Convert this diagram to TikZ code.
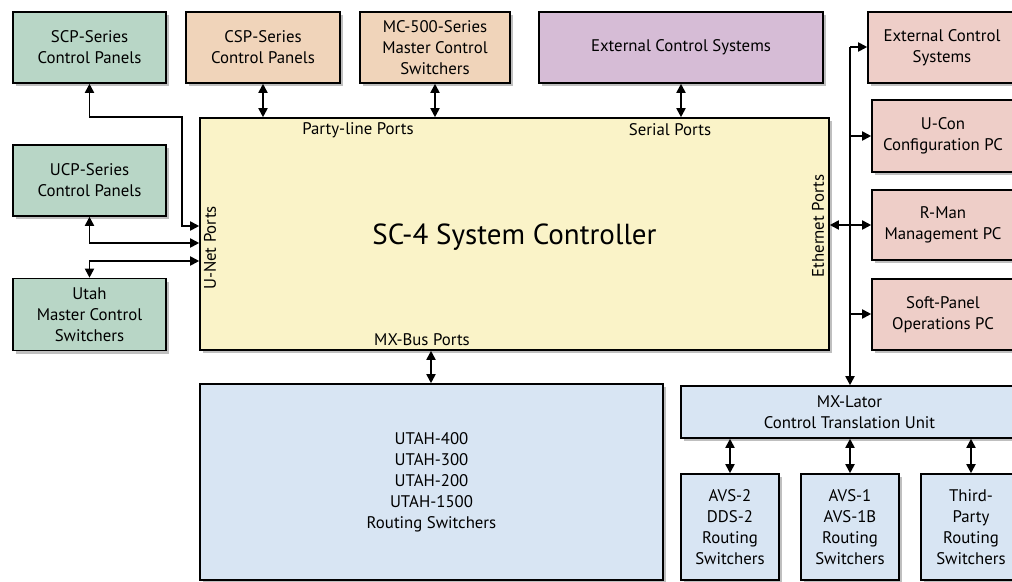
\documentclass[tikz,border=0pt]{standalone}
\usepackage{fontspec}
\setmainfont{PT Sans}
\usetikzlibrary{arrows.meta,shadows}
\definecolor{cgreen}{RGB}{184,214,198}
\definecolor{cpeach}{RGB}{240,212,186}
\definecolor{cpurple}{RGB}{214,188,214}
\definecolor{cpink}{RGB}{238,206,200}
\definecolor{cyellow}{RGB}{250,243,200}
\definecolor{cblue}{RGB}{216,229,243}
\tikzset{
  box/.style={draw=black, line width=1.6pt, align=center, inner sep=2pt,
    font=\fontsize{16.8}{21}\selectfont,
    drop shadow={shadow xshift=3pt, shadow yshift=-3pt, opacity=0.25, fill=black}},
  conn/.style={line width=1.8pt, {Triangle[length=9pt,width=9pt]}-{Triangle[length=9pt,width=9pt]}},
  oneway/.style={line width=1.8pt, -{Triangle[length=9pt,width=9pt]}},
  port/.style={font=\fontsize{16.8}{18}\selectfont, inner sep=0pt}
}
\begin{document}
\begin{tikzpicture}[x=1pt,y=-1pt]
\useasboundingbox[fill=white] (0,0) rectangle (1012,581);
% top row
\node[box, fill=cgreen, minimum width=153, minimum height=71] (scp) at (89.5,47.5) {SCP-Series\\Control Panels};
\node[box, fill=cpeach, minimum width=154, minimum height=71] (csp) at (263,47.5) {CSP-Series\\Control Panels};
\node[box, fill=cpeach, minimum width=150, minimum height=71] (mc) at (435,47.5) {MC-500-Series\\Master Control\\Switchers};
\node[box, fill=cpurple, minimum width=284, minimum height=71] (ext) at (681,47.5) {External Control Systems};
% right column
\node[box, fill=cpink, minimum width=148, minimum height=71] (extr) at (942,47.5) {External Control\\Systems};
\node[box, fill=cpink, minimum width=142, minimum height=72] (ucon) at (943,136) {U-Con\\Configuration PC};
\node[box, fill=cpink, minimum width=142, minimum height=70] (rman) at (943,225) {R-Man\\Management PC};
\node[box, fill=cpink, minimum width=142, minimum height=71] (soft) at (943,314.5) {Soft-Panel\\Operations PC};
% left column
\node[box, fill=cgreen, minimum width=153, minimum height=71] (ucp) at (89.5,180.5) {UCP-Series\\Control Panels};
\node[box, fill=cgreen, minimum width=153, minimum height=72] (utah) at (89.5,314.5) {Utah\\Master Control\\Switchers};
% controller
\node[box, fill=cyellow, minimum width=629, minimum height=232] (sc4) at (514.5,234) {};
\node[font=\fontsize{29}{32}\selectfont] (sc4t) at (514.5,237) {SC-4 System Controller};
\node[port] (pl) at (358,130) {Party-line Ports};
\node[port] (sp) at (670,130) {Serial Ports};
\node[port, rotate=90] (un) at (210,248) {U-Net Ports};
\node[port, rotate=90] (en) at (818,226) {Ethernet Ports};
\node[port] (mb) at (422,340) {MX-Bus Ports};
% bottom
\node[box, fill=cblue, minimum width=463, minimum height=196] (big) at (431.5,482) {UTAH-400\\UTAH-300\\UTAH-200\\UTAH-1500\\Routing Switchers};
\node[box, fill=cblue, minimum width=337, minimum height=52] (mxl) at (849.5,412) {MX-Lator\\Control Translation Unit};
\node[box, fill=cblue, minimum width=98, minimum height=106] (avs2) at (730,527) {AVS-2\\DDS-2\\Routing\\Switchers};
\node[box, fill=cblue, minimum width=98, minimum height=106] (avs1) at (850,527) {AVS-1\\AVS-1B\\Routing\\Switchers};
\node[box, fill=cblue, minimum width=100, minimum height=106] (third) at (971,527) {Third-\\Party\\Routing\\Switchers};
% connectors
\draw[conn] (scp.south) -- (89.5,117) -- (182,117) -- (182,226) -- (sc4.west |- 0,226);
\draw[conn] (ucp.south) -- (89.5,243) -- (sc4.west |- 0,243);
\draw[conn] (utah.north) -- (89.5,261) -- (sc4.west |- 0,261);
\draw[conn] (csp.south) -- (sc4.north -| csp.south);
\draw[conn] (mc.south) -- (sc4.north -| mc.south);
\draw[conn] (ext.south) -- (sc4.north -| ext.south);
\draw[conn] (sc4.south -| 431,0) -- (big.north -| 431,0);
\coordinate (bustop) at (850,47);
\draw[oneway] (bustop) -- (extr.west |- bustop);
\draw[oneway] (bustop) -- (mxl.north -| bustop);
\draw[oneway] (850,136) -- (ucon.west |- 0,136);
\draw[conn] (sc4.east |- 0,225) -- (rman.west |- 0,225);
\draw[oneway] (850,314) -- (soft.west |- 0,314);
\draw[conn] (mxl.south -| avs2.north) -- (avs2.north);
\draw[conn] (mxl.south -| avs1.north) -- (avs1.north);
\draw[conn] (mxl.south -| third.north) -- (third.north);
\end{tikzpicture}
\end{document}
